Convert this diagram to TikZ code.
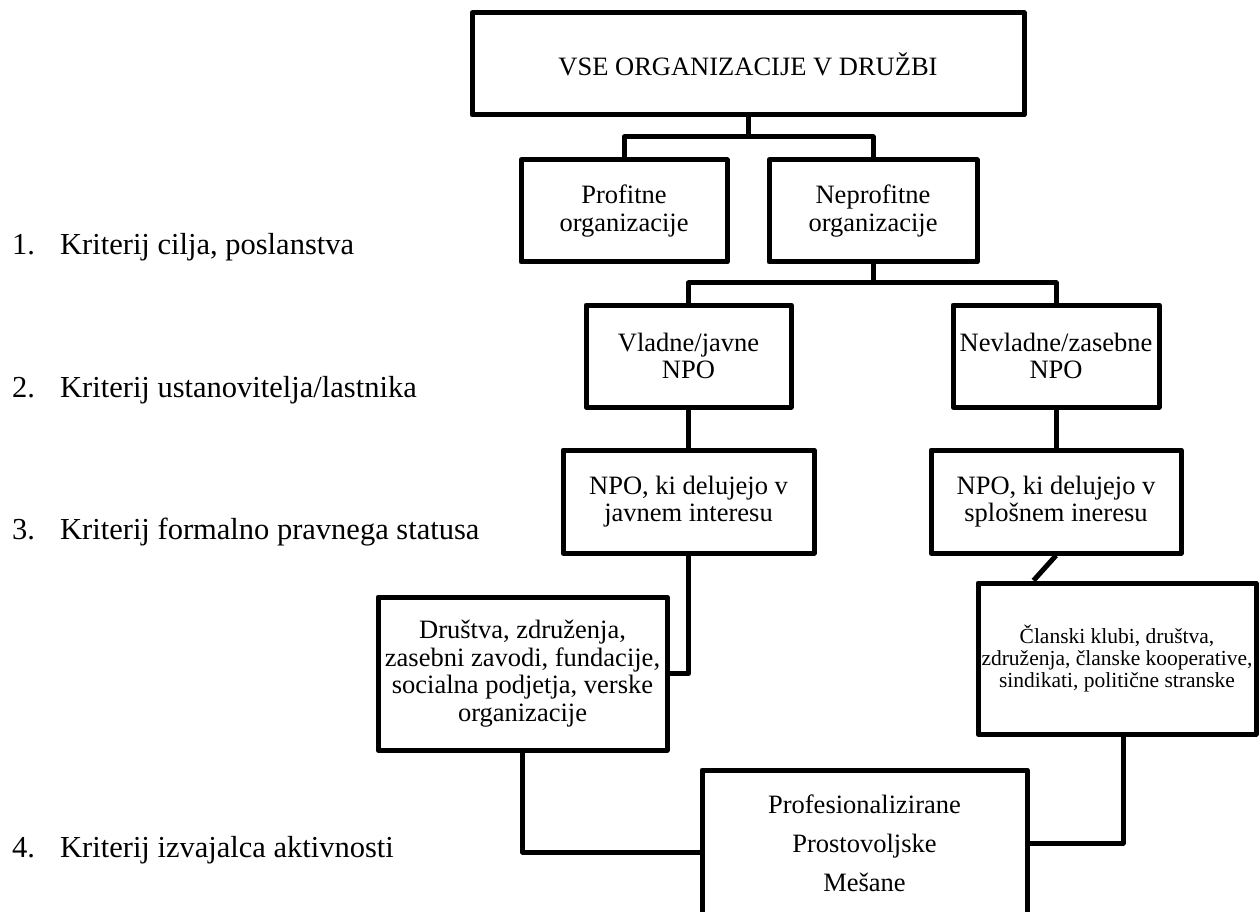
\documentclass[tikz,border=0pt]{standalone}
\usepackage{fontspec}
\setmainfont{Liberation Serif}
\usetikzlibrary{calc}
\begin{document}
\begin{tikzpicture}[x=1pt,y=-1pt,
  box/.style={draw, line width=5pt, line join=round, inner sep=0pt, align=center,
    font=\fontsize{26.5}{27.5}\selectfont},
  smallbox/.style={box, font=\fontsize{21.5}{22}\selectfont},
  conn/.style={line width=5pt, line join=round},
  crit/.style={anchor=base west, inner sep=0pt, font=\fontsize{30.5}{36}\selectfont}]
\useasboundingbox (0,0) rectangle (1259,912);
\clip (0,0) rectangle (1259,912);

% boxes
\node[box, minimum width=552pt, minimum height=102pt] (top) at (748,64) {VSE ORGANIZACIJE V DRUŽBI};
\node[box, minimum width=206pt, minimum height=102pt] (prof) at (624,211) {Profitne\\organizacije};
\node[box, minimum width=208pt, minimum height=102pt] (nep) at (873,211) {Neprofitne\\organizacije};
\node[box, minimum width=205pt, minimum height=102pt] (vlad) at (688.5,356) {Vladne/javne\\NPO};
\node[box, minimum width=206pt, minimum height=102pt] (nevl) at (1056,356) {Nevladne/zasebne\\NPO};
\node[box, minimum width=251pt, minimum height=103pt] (javn) at (688.5,501.5) {NPO, ki delujejo v\\javnem interesu};
\node[box, minimum width=250pt, minimum height=103pt] (splo) at (1056,501.5) {NPO, ki delujejo v\\splošnem ineresu};
\node[box, minimum width=289pt, minimum height=153pt] (drus) at (522.5,673.5) {Društva, združenja,\\zasebni zavodi, fundacije,\\socialna podjetja, verske\\organizacije};
\node[smallbox, minimum width=278pt, minimum height=151pt] (clan) at (1117,658.5) {Članski klubi, društva,\\združenja, članske kooperative,\\sindikati, politične stranske};
\node[box, minimum width=325pt, minimum height=146pt, font=\fontsize{26.5}{39}\selectfont] (pro) at (864.5,843) {Profesionalizirane\\Prostovoljske\\Mešane};

% connectors
\coordinate (j1) at (748,137);
\coordinate (j2) at (873,283);
\draw[conn] (top.south) -- (j1);
\draw[conn] (prof.north) |- (j1) -| (nep.north);
\draw[conn] (nep.south) -- (j2);
\draw[conn] (vlad.north) |- (j2) -| (nevl.north);
\draw[conn] (vlad.south) -- (javn.north);
\draw[conn] (nevl.south) -- (splo.north);
\draw[conn] (javn.south) |- (drus.east);
\draw[conn] (splo.south) -- ($(clan.north west)!0.205!(clan.north east)$);
\draw[conn] (drus.south) |- ([yshift=-9pt]pro.west);
\draw[conn] ([xshift=6pt]clan.south) |- (pro.east);

% criteria labels
\node[crit] (c1) at (12,255) {\makebox[48pt][l]{1.}Kriterij cilja, poslanstva};
\node[crit] (c2) at (12,397) {\makebox[48pt][l]{2.}Kriterij ustanovitelja/lastnika};
\node[crit] (c3) at (12,539) {\makebox[48pt][l]{3.}Kriterij formalno pravnega statusa};
\node[crit] (c4) at (12,857) {\makebox[48pt][l]{4.}Kriterij izvajalca aktivnosti};
\end{tikzpicture}
\end{document}
